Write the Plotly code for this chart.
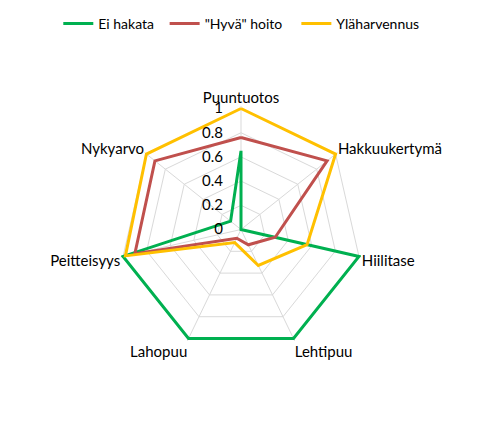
import plotly.graph_objects as go

categories = ["Puuntuotos", "Hakkuukertymä", "Hiilitase", "Lehtipuu", "Lahopuu", "Peitteisyys", "Nykyarvo"]
ei_hakata = [0.65, 0, 1, 1, 1, 1, 0.11]
hyva_hoito = [0.76, 0.91, 0.29, 0.14, 0.08, 0.9, 0.91]
ylaharvennus = [1, 1, 0.56, 0.33, 0.12, 0.98, 1]
radial_ticks = [0, 0.2, 0.4, 0.6, 0.8, 1]

series = [
    ("Ei hakata", ei_hakata, "#00B050", "legend", 0.105),
    ('"Hyvä" hoito', hyva_hoito, "#C0504D", "legend2", 0.327),
    ("Yläharvennus", ylaharvennus, "#FFC000", "legend3", 0.602),
]

fig = go.Figure()
legends = {}
for name, vals, col, leg, lx in series:
    fig.add_trace(go.Scatterpolar(
        r=vals + vals[:1],
        theta=categories + categories[:1],
        name=name,
        mode="lines",
        line=dict(color=col, width=3),
        legend=leg,
    ))
    legends[leg] = dict(orientation="h", x=lx, xanchor="left", y=1.0, yanchor="top",
                        font=dict(size=14), itemwidth=30, bgcolor="rgba(0,0,0,0)")

# a little headroom past 1 so the lines on the outer ring are not clipped
fig.update_layout(
    width=479, height=423,
    margin=dict(l=0, r=0, t=0, b=0),
    paper_bgcolor="white",
    font=dict(family="Lato, Liberation Sans, sans-serif", size=15, color="#000000"),
    showlegend=True,
    **legends,
    polar=dict(
        domain=dict(x=[0.2288, 0.7441], y=[0.1846, 0.7681]),
        bgcolor="white",
        gridshape="linear",
        radialaxis=dict(
            range=[0, 1.02],
            tickvals=radial_ticks,
            ticktext=[str(t) + "\u00a0" * 4 for t in radial_ticks],
            angle=90,
            tickangle=90,
            side="counterclockwise",
            showline=False,
            ticks="",
            gridcolor="#D9D9D9",
            gridwidth=1,
            tickfont=dict(size=15),
        ),
        angularaxis=dict(
            direction="clockwise",
            rotation=90,
            gridcolor="#D9D9D9",
            showline=False,
            ticks="",
            tickfont=dict(size=15),
        ),
    ),
)

fig.write_html("out.html")
